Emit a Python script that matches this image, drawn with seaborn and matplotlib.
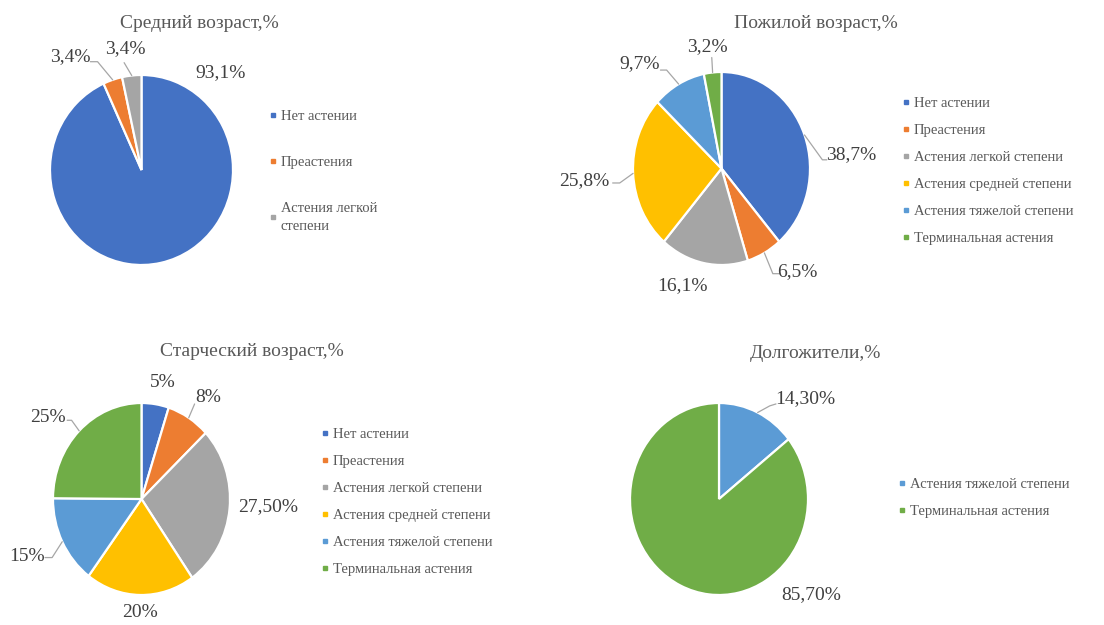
import numpy as np
import matplotlib
matplotlib.use("Agg")
import matplotlib.pyplot as plt
from matplotlib.lines import Line2D
import seaborn as sns

# ---------------- data ----------------
categories = ["Нет астении", "Преастения", "Астения легкой степени",
              "Астения средней степени", "Астения тяжелой степени",
              "Терминальная астения"]
titles = ["Средний возраст,%", "Пожилой возраст,%",
          "Старческий возраст,%", "Долгожители,%"]

mid_age_vals = [93.1, 3.4, 3.4]
mid_age_labels = ["93,1%", "3,4%", "3,4%"]

elderly_vals = [38.7, 6.5, 16.1, 25.8, 9.7, 3.2]
elderly_labels = ["38,7%", "6,5%", "16,1%", "25,8%", "9,7%", "3,2%"]

senile_vals = [5, 8, 27.5, 20, 15, 25]
senile_labels = ["5%", "8%", "27,50%", "20%", "15%", "25%"]

longliver_vals = [14.3, 85.7]
longliver_labels = ["14,30%", "85,70%"]

# ---------------- style ----------------
sns.set_theme(style="white")
plt.rcParams["font.family"] = ["Liberation Serif", "DejaVu Serif"]
palette = sns.color_palette(["#4472C4", "#ED7D31", "#A5A5A5",
                             "#FFC000", "#5B9BD5", "#70AD47"])
TEXT = "#595959"
LABEL = "#404040"

W, H = 1104, 625
fig = plt.figure(figsize=(W / 100, H / 100), dpi=100)
fig.patch.set_facecolor("white")


def make_ax(cx, cy, rx, ry):
    ax = fig.add_axes([(cx - 1.25 * rx) / W, (H - cy - 1.25 * ry) / H,
                       2.5 * rx / W, 2.5 * ry / H])
    return ax


def draw_pie(ax, vals, cats_idx, labels, label_pos, leaders):
    cols = [palette[i] for i in cats_idx]
    wedges, _ = ax.pie(vals, colors=cols, startangle=90, counterclock=False,
                       wedgeprops=dict(edgecolor="white", linewidth=1.6))
    ax.set_aspect("auto")
    ax.set_xlim(-1.25, 1.25)
    ax.set_ylim(-1.25, 1.25)
    ax.axis("off")
    for w, lab, pos in zip(wedges, labels, label_pos):
        ax.text(pos[0], pos[1], lab, ha="center", va="center",
                fontsize=14, color=LABEL, clip_on=False)
    for i, pts in leaders.items():
        w = wedges[i]
        mid = np.deg2rad((w.theta1 + w.theta2) / 2)
        xs = [p[0] for p in pts] + [np.cos(mid) * 1.0]
        ys = [p[1] for p in pts] + [np.sin(mid) * 1.0]
        ax.plot(xs, ys, color="#A6A6A6", lw=0.9, clip_on=False)


def add_legend(ax, idx, left_px, top_px, spacing, names=None):
    handles = [Line2D([], [], marker="s", ls="", markersize=3.5,
                      color=palette[i]) for i in idx]
    labs = names if names is not None else [categories[i] for i in idx]
    leg = ax.legend(handles, labs, loc="upper left",
                    bbox_to_anchor=(left_px / W, 1 - top_px / H),
                    bbox_transform=fig.transFigure, frameon=False,
                    handlelength=0.5, handletextpad=0.3, labelspacing=spacing,
                    fontsize=10.5, labelcolor=TEXT, borderpad=0,
                    borderaxespad=0)
    for t in leg.get_texts():
        t.set_linespacing(1.45)
    return leg


# ---- Pie 1: Средний возраст ----
ax1 = make_ax(141.5, 170, 91.5, 95)
draw_pie(ax1, mid_age_vals, [0, 1, 2], mid_age_labels,
         [(0.86, 1.03), (-0.78, 1.19), (-0.18, 1.28)],
         {1: [(-0.56, 1.14), (-0.48, 1.14)], 2: [(-0.19, 1.13)]})
add_legend(ax1, [0, 1, 2], 269, 110, 2.25,
           names=["Нет астении", "Преастения", "Астения легкой\nстепени"])
fig.text(199 / W, 1 - 23 / H, titles[0], ha="center", va="center",
         fontsize=14, color=TEXT)

# ---- Pie 2: Пожилой возраст ----
ax2 = make_ax(721.5, 168.5, 88.5, 96.5)
draw_pie(ax2, elderly_vals, [0, 1, 2, 3, 4, 5], elderly_labels,
         [(1.46, 0.14), (0.86, -1.07), (-0.44, -1.21), (-1.55, -0.13),
          (-0.92, 1.09), (-0.16, 1.26)],
         {0: [(1.19, 0.09), (1.14, 0.09)],
          1: [(0.66, -1.09), (0.58, -1.09)],
          3: [(-1.23, -0.15), (-1.15, -0.15)],
          4: [(-0.69, 1.02), (-0.62, 1.02)],
          5: [(-0.11, 1.15)]})
add_legend(ax2, [0, 1, 2, 3, 4, 5], 902, 97, 0.94)
fig.text(816 / W, 1 - 23 / H, titles[1], ha="center", va="center",
         fontsize=14, color=TEXT)

# ---- Pie 3: Старческий возраст ----
ax3 = make_ax(141.5, 499, 88.5, 96)
draw_pie(ax3, senile_vals, [0, 1, 2, 3, 4, 5], senile_labels,
         [(0.24, 1.21), (0.75, 1.06), (1.43, -0.08), (-0.02, -1.18),
          (-1.29, -0.60), (-1.06, 0.85)],
         {1: [(0.60, 0.99)],
          4: [(-1.09, -0.61), (-1.01, -0.61)],
          5: [(-0.84, 0.82), (-0.79, 0.82)]})
add_legend(ax3, [0, 1, 2, 3, 4, 5], 321, 428, 0.94)
fig.text(252 / W, 1 - 352 / H, titles[2], ha="center", va="center",
         fontsize=14, color=TEXT)

# ---- Pie 4: Долгожители ----
ax4 = make_ax(719, 499, 89, 96)
draw_pie(ax4, longliver_vals, [4, 5], longliver_labels,
         [(0.97, 1.05), (1.04, -1.0)],
         {0: [(0.64, 0.99), (0.57, 0.97)]})
add_legend(ax4, [4, 5], 898, 478, 0.94)
fig.text(815 / W, 1 - 353 / H, titles[3], ha="center", va="center",
         fontsize=14, color=TEXT)

fig.savefig("out.png", dpi=100, facecolor="white")
